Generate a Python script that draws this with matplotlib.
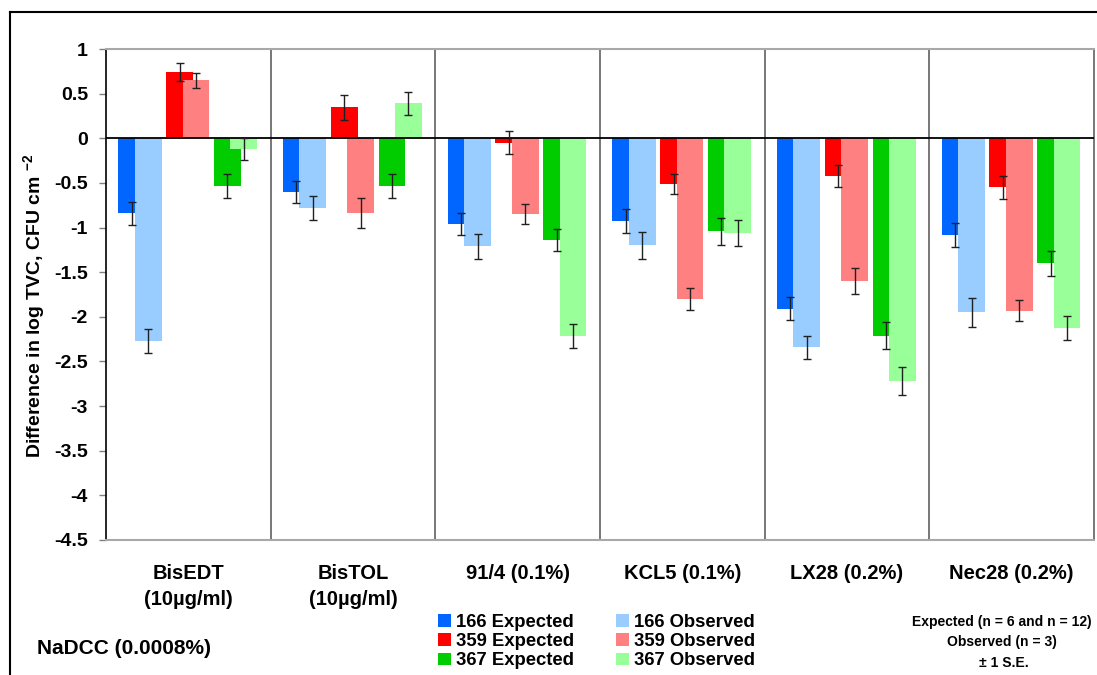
import numpy as np
import matplotlib
matplotlib.use('Agg')
import matplotlib.pyplot as plt
from matplotlib.lines import Line2D

plt.rcParams['font.family'] = ['Liberation Sans', 'DejaVu Sans']
plt.rcParams['font.weight'] = 'bold'
plt.rcParams['axes.unicode_minus'] = False
plt.rcParams['mathtext.fontset'] = 'custom'
plt.rcParams['mathtext.bf'] = 'Liberation Sans:bold'
plt.rcParams['mathtext.rm'] = 'Liberation Sans:bold'

categories = ['BisEDT\n(10µg/ml)', 'BisTOL\n(10µg/ml)', '91/4 (0.1%)',
              'KCL5 (0.1%)', 'LX28 (0.2%)', 'Nec28 (0.2%)']

exp_166 = [-0.84, -0.60, -0.96, -0.93, -1.91, -1.08]
obs_166 = [-2.27, -0.78, -1.21, -1.20, -2.34, -1.95]
exp_359 = [0.74, 0.35, -0.05, -0.51, -0.42, -0.55]
obs_359 = [0.65, -0.84, -0.85, -1.80, -1.60, -1.93]
exp_367 = [-0.53, -0.53, -1.14, -1.04, -2.21, -1.40]
obs_367 = [-0.12, 0.39, -2.21, -1.06, -2.72, -2.13]

se_exp_166 = [0.13, 0.12, 0.12, 0.135, 0.127, 0.135]
se_obs_166 = [0.13, 0.13, 0.14, 0.155, 0.128, 0.165]
se_exp_359 = [0.10, 0.14, 0.13, 0.115, 0.123, 0.13]
se_obs_359 = [0.085, 0.17, 0.115, 0.125, 0.145, 0.115]
se_exp_367 = [0.135, 0.135, 0.125, 0.15, 0.15, 0.14]
se_obs_367 = [0.12, 0.125, 0.135, 0.15, 0.155, 0.135]

yticks = [1, 0.5, 0, -0.5, -1, -1.5, -2, -2.5, -3, -3.5, -4, -4.5]

expected = [exp_166, exp_359, exp_367]
observed = [obs_166, obs_359, obs_367]
se_expected = [se_exp_166, se_exp_359, se_exp_367]
se_observed = [se_obs_166, se_obs_359, se_obs_367]
dark_colors = ['#0066FF', '#FF0000', '#00CC00']
light_colors = ['#99CCFF', '#FF8080', '#99FF99']
strains = ['166', '359', '367']

W, H = 1097, 675
fig = plt.figure(figsize=(W / 100, H / 100), dpi=100)
ax = fig.add_axes([106 / W, 1 - 540 / H, 988 / W, 491 / H])

x = np.arange(len(categories))
bw = 0.163
exp_handles, obs_handles = [], []
for j in range(3):
    left = x + 0.075 + j * 0.29
    h = ax.bar(left, expected[j], width=bw, align='edge', color=dark_colors[j],
               zorder=2, label=f'{strains[j]} Expected')
    exp_handles.append(h)
    ax.errorbar(left + bw / 2, expected[j], yerr=se_expected[j], fmt='none',
                ecolor='#202020', elinewidth=1, capsize=3, capthick=1, zorder=5)
for j in range(3):
    left = x + 0.075 + j * 0.29 + 0.1
    h = ax.bar(left, observed[j], width=bw, align='edge', color=light_colors[j],
               zorder=3, label=f'{strains[j]} Observed')
    obs_handles.append(h)
    ax.errorbar(left + bw / 2, observed[j], yerr=se_observed[j], fmt='none',
                ecolor='#202020', elinewidth=1, capsize=3, capthick=1, zorder=5)

ax.axhline(0, color='black', lw=1.3, zorder=4)
for i in range(1, len(categories)):
    ax.axvline(i, color='#606060', lw=1.2, zorder=1)

ax.set_xlim(0, len(categories))
ax.set_ylim(-4.5, 1)
ax.set_yticks(yticks)
ax.set_yticklabels([f'{v:g}' for v in yticks], fontsize=14, fontweight='bold')
ax.tick_params(axis='y', length=5, width=1, color='#808080', pad=8)
ax.set_xticks(x + 0.5)
ax.set_xticklabels(categories, fontsize=14.5, fontweight='bold', linespacing=1.45)
ax.tick_params(axis='x', length=0, pad=17.5)

ax.spines['left'].set_color('black')
ax.spines['left'].set_linewidth(1.2)
for s in ['top', 'bottom']:
    ax.spines[s].set_color('#a8a8a8')
    ax.spines[s].set_linewidth(1.5)
ax.spines['right'].set_color('#606060')
ax.spines['right'].set_linewidth(1.2)

fig.text(35 / W, 1 - 306 / H, r'Difference in log TVC, CFU cm $^{\mathbf{-2}}$',
         rotation=90, ha='center', va='center', fontsize=14, fontweight='bold')

fig.text(37 / W, 1 - 648 / H, 'NaDCC (0.0008%)', ha='left', va='center',
         fontsize=15, fontweight='bold')

fig.legend(handles=exp_handles + obs_handles, ncol=2, loc='upper left',
           bbox_to_anchor=(438 / W, 1 - 614 / H), frameon=False,
           prop={'weight': 'bold', 'size': 13.3},
           handlelength=0.7, handleheight=0.7, handletextpad=0.25,
           columnspacing=2.3, labelspacing=0.12, borderpad=0, borderaxespad=0)

fig.text(1002 / W, 1 - 622 / H, 'Expected (n = 6 and n = 12)', ha='center',
         va='center', fontsize=10, fontweight='bold')
fig.text(1002 / W, 1 - 642 / H, 'Observed (n = 3)', ha='center',
         va='center', fontsize=10, fontweight='bold')
fig.text(1004 / W, 1 - 663 / H, '± 1 S.E.', ha='center',
         va='center', fontsize=10, fontweight='bold')

fig.add_artist(Line2D([10 / W, 1], [1 - 12 / H, 1 - 12 / H], color='black', lw=1.5))
fig.add_artist(Line2D([10 / W, 10 / W], [0, 1 - 12 / H], color='black', lw=1.5))

fig.savefig('out.png', dpi=100)
